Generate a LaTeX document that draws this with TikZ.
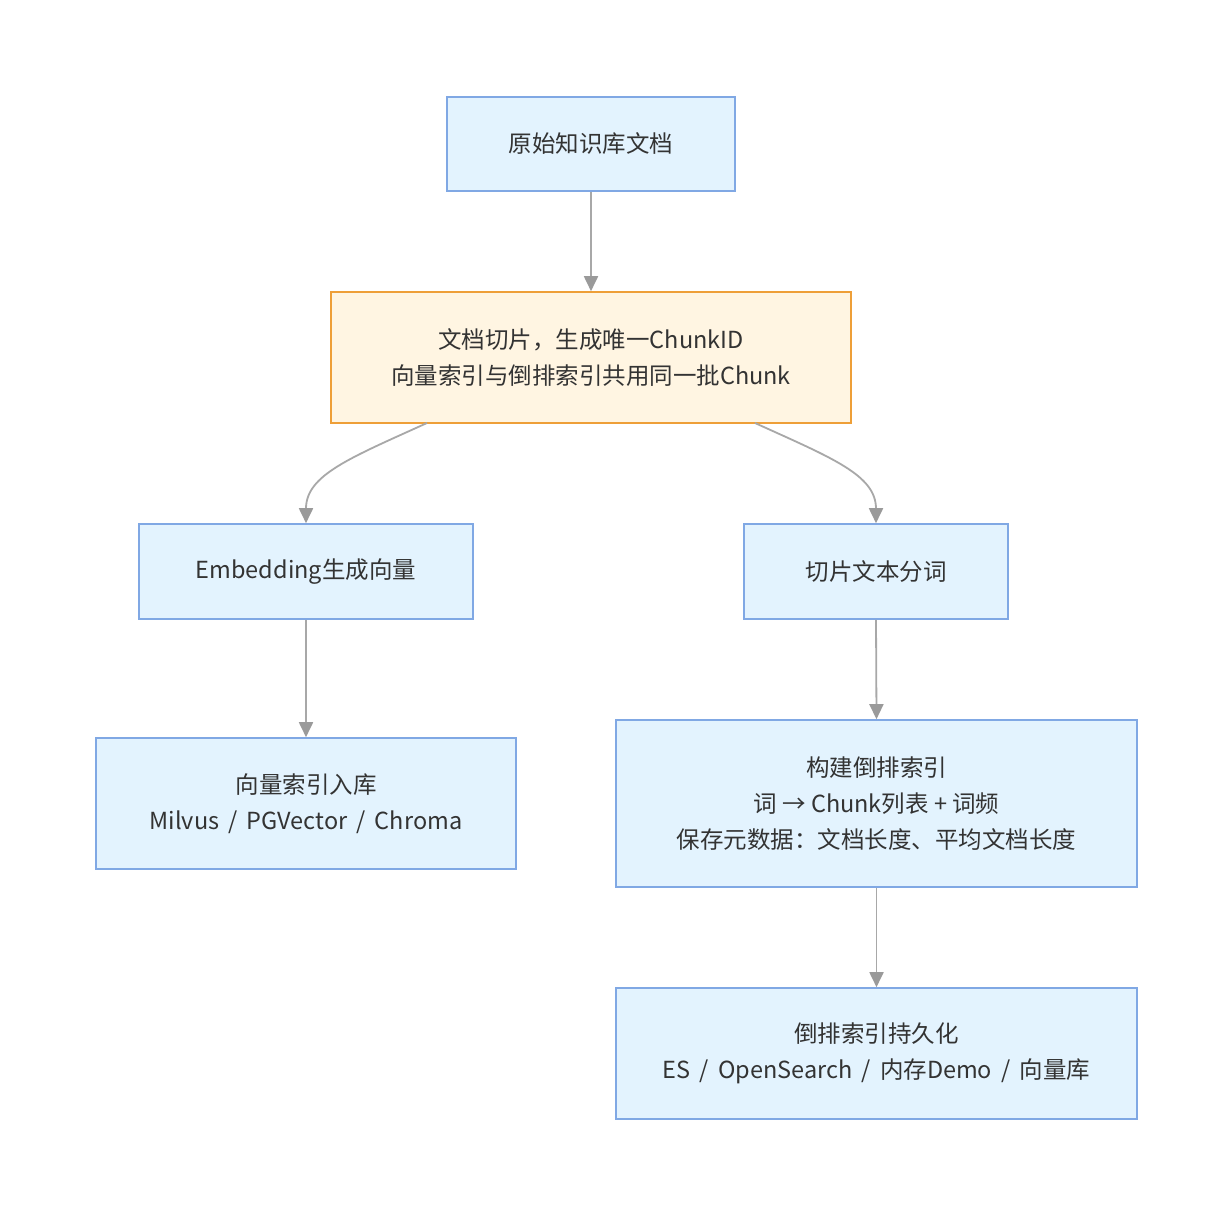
\documentclass[tikz,border=0pt]{standalone}
\usepackage{fontspec}
\setmainfont{Noto Sans CJK SC}
\usetikzlibrary{arrows.meta}
\definecolor{bluefill}{HTML}{E3F3FE}
\definecolor{blueline}{HTML}{80A8E4}
\definecolor{orgfill}{HTML}{FFF5E2}
\definecolor{orgline}{HTML}{EE9F38}
\definecolor{edgegray}{HTML}{A8A8A8}
\definecolor{tipgray}{HTML}{9A9A9A}
\definecolor{txt}{HTML}{333333}
\tikzset{
  box/.style={draw=blueline, fill=bluefill, line width=1.6pt, inner sep=0pt,
    align=center, text=txt, font=\fontsize{23.5}{36}\selectfont},
  obox/.style={box, draw=orgline, fill=orgfill},
  edge/.style={draw=edgegray, line width=1.8pt,
    -{Triangle[width=14pt,length=15pt,fill=tipgray,color=tipgray]}},
}
\begin{document}
\begin{tikzpicture}[x=1pt,y=-1pt]
\useasboundingbox[fill=white] (0,0) rectangle (1232,1216);
\node[box, minimum width=288pt, minimum height=94pt] (a) at (591,144) {原始知识库文档};
\node[obox, minimum width=520pt, minimum height=131pt] (b) at (591,357.5)
  {文档切片，生成唯一ChunkID\\向量索引与倒排索引共用同一批Chunk};
\node[box, minimum width=334pt, minimum height=95pt] (c) at (306,571.5) {Embedding生成向量};
\node[box, minimum width=264pt, minimum height=95pt] (d) at (876,571.5) {切片文本分词};
\node[box, minimum width=420pt, minimum height=131pt] (e) at (306,803.5)
  {向量索引入库\\Milvus \,/\, PGVector \,/\, Chroma};
\node[box, minimum width=521pt, minimum height=167pt] (f) at (876.5,803.5)
  {构建倒排索引\\词 → Chunk列表 + 词频\\保存元数据：文档长度、平均文档长度};
\node[box, minimum width=521pt, minimum height=131pt] (g) at (876.5,1053.5)
  {倒排索引持久化\\ES \,/\, OpenSearch \,/\, 内存Demo \,/\, 向量库};
\coordinate (bl) at (427,423);
\coordinate (br) at (755,423);
\draw[edge] (a.south) -- (b.north);
\draw[edge] (bl) .. controls (350,458) and (306,475) .. (c.north);
\draw[edge] (br) .. controls (832,458) and (876,475) .. (d.north);
\draw[edge] (c.south) -- (e.north);
\draw[edge] (d.south) -- (f.north);
\draw[edge] (f.south) -- (g.north);
\end{tikzpicture}
\end{document}
